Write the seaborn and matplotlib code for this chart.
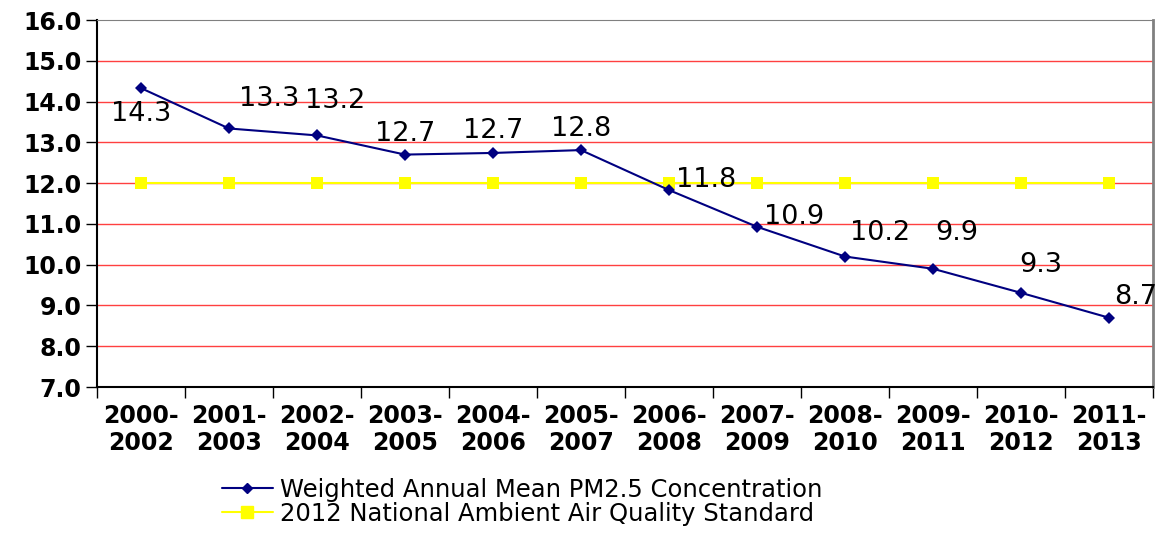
import matplotlib
matplotlib.use("Agg")
import matplotlib.pyplot as plt
import seaborn as sns
import pandas as pd
import numpy as np

periods = ['2000-\n2002', '2001-\n2003', '2002-\n2004', '2003-\n2005', '2004-\n2006', '2005-\n2007',
           '2006-\n2008', '2007-\n2009', '2008-\n2010', '2009-\n2011', '2010-\n2012', '2011-\n2013']
pm25 = [14.33, 13.34, 13.17, 12.70, 12.74, 12.81, 11.83, 10.93, 10.20, 9.90, 9.31, 8.70]
naaqs = [12.0] * 12

mean_name = 'Weighted Annual Mean PM2.5 Concentration'
std_name = '2012 National Ambient Air Quality Standard'

# where each data label sits relative to its point (points), Excel-style
label_offsets = [(0, -19), (29, 21), (13, 25), (0, 15), (0, 16), (0, 15),
                 (27, 7), (27, 7), (25, 17), (17, 26), (14, 20), (19, 15)]

df = pd.DataFrame({'Period': periods * 2,
                   'Value': pm25 + naaqs,
                   'Series': [mean_name] * 12 + [std_name] * 12})

sns.set_style('white')
plt.rcParams['font.family'] = ['DejaVu Sans']
plt.rcParams['text.color'] = 'black'
plt.rcParams['xtick.color'] = 'black'
plt.rcParams['ytick.color'] = 'black'

fig = plt.figure(figsize=(11.64, 5.35), dpi=100)
ax = fig.add_axes([0.0833, 0.2766, 0.9072, 0.686])

sns.lineplot(ax=ax, data=df, x='Period', y='Value', hue='Series', style='Series',
             palette={mean_name: '#000080', std_name: '#FFFF00'},
             markers={mean_name: 'D', std_name: 's'}, dashes=False, sort=False,
             markersize=7, linewidth=1.5, markeredgewidth=0, legend=False)
# yellow squares a bit larger
for ln in ax.lines:
    if ln.get_color().lower() in ('#ffff00', 'yellow'):
        ln.set_markersize(9)
        ln.set_zorder(2)
    else:
        ln.set_markersize(6)
        ln.set_zorder(3)

for i, v in enumerate(pm25):
    ax.annotate(f'{v:.1f}', (i, v), xytext=label_offsets[i], textcoords='offset points',
                ha='center', va='center', fontsize=19.5, color='black')

ax.set_ylim(7, 16)
ax.set_yticks(np.arange(7, 16.5, 1))
ax.set_yticklabels([f'{t:.1f}' for t in np.arange(7, 16.5, 1)], fontsize=17, fontweight='bold')
ax.set_xlim(-0.5, len(periods) - 0.5)
ax.set_xticks(range(len(periods)))
ax.set_xticklabels(periods, fontsize=17, fontweight='bold', linespacing=1.15)
ax.set_xticks(np.arange(-0.5, len(periods), 1), minor=True)
ax.tick_params(axis='x', which='major', length=0, pad=12)
ax.tick_params(axis='x', which='minor', length=8, width=1, color='black', direction='out', bottom=True)
ax.tick_params(axis='y', length=8, width=1, color='black', direction='out', left=True, pad=3)
ax.set_xlabel('')
ax.set_ylabel('')

for y in range(8, 16):
    ax.axhline(y, color='#FF4040', linewidth=1, zorder=1)

ax.spines['left'].set_color('black')
ax.spines['bottom'].set_color('black')
ax.spines['left'].set_linewidth(1.5)
ax.spines['bottom'].set_linewidth(1.5)
ax.spines['top'].set_color('#808080')
ax.spines['right'].set_color('#808080')
ax.spines['right'].set_linewidth(2)

handles = [plt.Line2D([], [], color='#000080', marker='D', markersize=5, linewidth=1.5),
           plt.Line2D([], [], color='#FFFF00', marker='s', markersize=8, linewidth=1.5)]
fig.legend(handles, [mean_name, std_name], loc='upper left', bbox_to_anchor=(0.18, 0.13),
           frameon=False, fontsize=17.5, handlelength=2.1, handletextpad=0.3, labelspacing=0.0,
           borderpad=0)

fig.savefig('out.png', dpi=100)
